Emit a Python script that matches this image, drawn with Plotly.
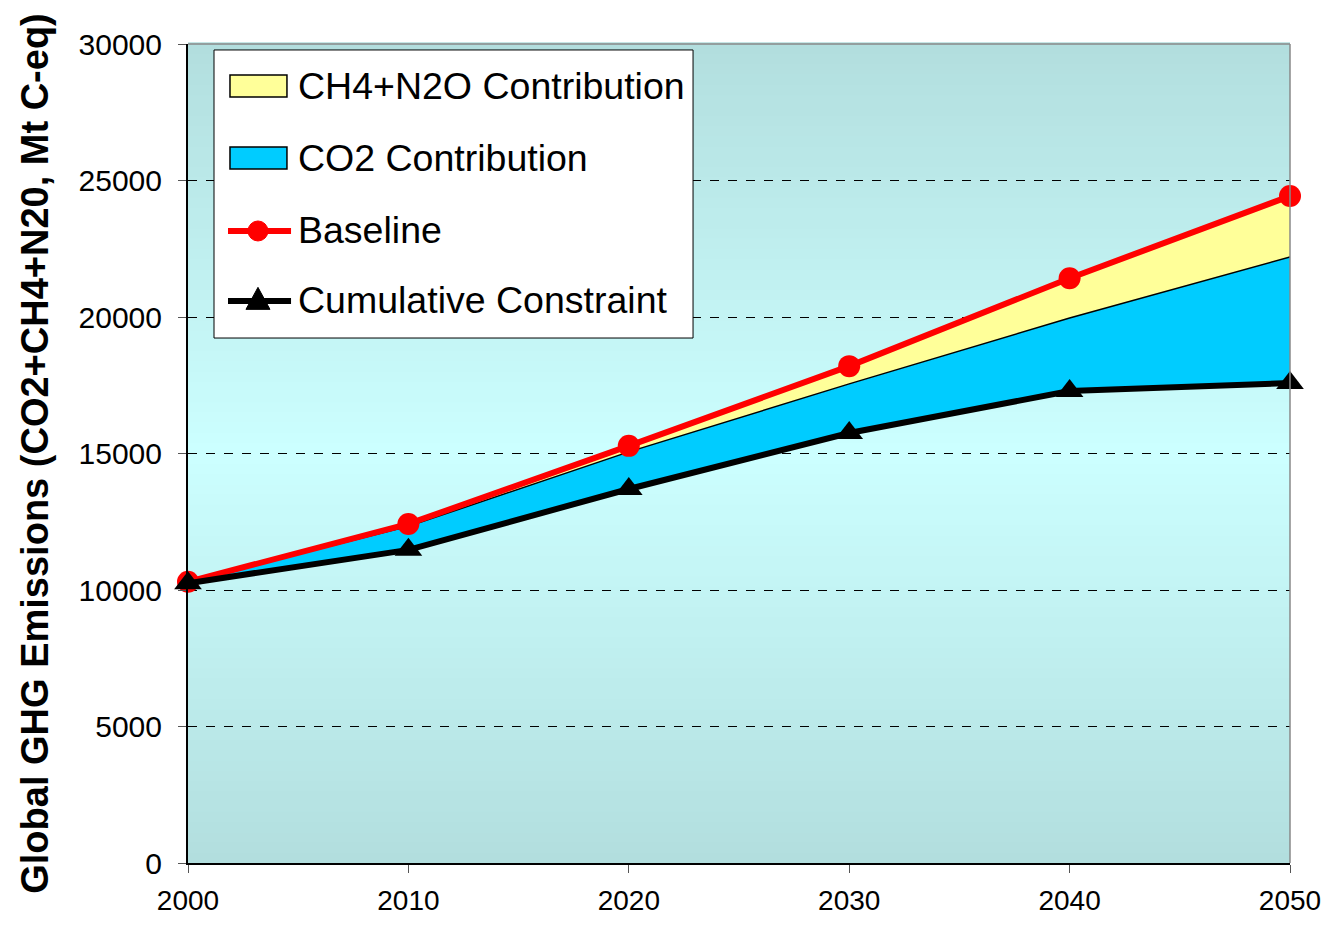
import plotly.graph_objects as go

years = [2000, 2010, 2020, 2030, 2040, 2050]
baseline = [10300, 12420, 15280, 18200, 21420, 24430]
co2_top = [10300, 12330, 15060, 17550, 19960, 22200]
constraint = [10250, 11470, 13700, 15750, 17290, 17580]

y_ticks = [0, 5000, 10000, 15000, 20000, 25000, 30000]
y_ticklabels = ["0", "5000", "10000", "15000", "20000", "25000", "30000"]
x_ticks = [2000, 2010, 2020, 2030, 2040, 2050]
x_ticklabels = ["2000", "2010", "2020", "2030", "2040", "2050"]

legend_names = ["CH4+N2O Contribution", "CO2 Contribution", "Baseline", "Cumulative Constraint"]

FONT = "Liberation Sans, Arial, sans-serif"
RED = "#FF0000"
BLUE = "#00CCFF"
YELLOW = "#FFFF99"

fig = go.Figure()

# invisible base for the CO2 band
fig.add_trace(go.Scatter(x=years, y=constraint, mode="lines",
                         line=dict(width=0, color="black"),
                         showlegend=False, hoverinfo="skip"))
fig.add_trace(go.Scatter(x=years, y=co2_top, mode="lines", fill="tonexty",
                         fillcolor=BLUE, line=dict(color="black", width=1.5),
                         name=legend_names[1], showlegend=False))
fig.add_trace(go.Scatter(x=years, y=baseline, mode="lines", fill="tonexty",
                         fillcolor=YELLOW, line=dict(color="black", width=1),
                         name=legend_names[0], showlegend=False))
fig.add_trace(go.Scatter(x=years, y=baseline, mode="lines+markers",
                         line=dict(color=RED, width=6),
                         marker=dict(symbol="circle", size=22, color=RED),
                         name=legend_names[2], showlegend=False, cliponaxis=False))
fig.add_trace(go.Scatter(x=years, y=constraint, mode="lines+markers",
                         line=dict(color="black", width=6),
                         marker=dict(symbol="triangle-up", size=24, color="black"),
                         name=legend_names[3], showlegend=False, cliponaxis=False))

# background gradient (edges teal, centre light cyan)
shapes = []
N = 80
edge = (0xB2, 0xDE, 0xDE)
mid = (0xCC, 0xFF, 0xFF)
for i in range(N):
    t0 = i / N
    t1 = (i + 1) / N
    tc = (t0 + t1) / 2
    f = 1 - abs(tc - 0.5) * 2  # 0 at edges, 1 at centre
    c = tuple(round(e + (m - e) * f) for e, m in zip(edge, mid))
    shapes.append(dict(type="rect", xref="x domain", yref="y domain",
                       x0=0, x1=1, y0=t0, y1=t1 + 0.002, layer="below",
                       line=dict(width=0), fillcolor="rgb(%d,%d,%d)" % c))
# grey top and right borders
shapes.append(dict(type="line", xref="x domain", yref="y domain", x0=0, x1=1, y0=1, y1=1,
                   line=dict(color="#888888", width=1.5)))
shapes.append(dict(type="line", xref="x domain", yref="y domain", x0=1, x1=1, y0=0, y1=1,
                   line=dict(color="#888888", width=1.5)))

# ---- hand-drawn legend (box, swatches, line samples, labels) ----
D = dict(xref="x domain", yref="y domain")
shapes.append(dict(type="rect", **D, x0=0.0236, x1=0.4583, y0=0.641, y1=0.9927,
                   fillcolor="white", line=dict(color="black", width=1), layer="above"))
row_y = [0.9487, 0.8608, 0.7717, 0.6862]
sw_x0, sw_x1 = 0.0381, 0.0898
sw_h = 0.0135
shapes.append(dict(type="rect", **D, x0=sw_x0, x1=sw_x1, y0=row_y[0] - sw_h, y1=row_y[0] + sw_h,
                   fillcolor=YELLOW, line=dict(color="black", width=1.5), layer="above"))
shapes.append(dict(type="rect", **D, x0=sw_x0, x1=sw_x1, y0=row_y[1] - sw_h, y1=row_y[1] + sw_h,
                   fillcolor=BLUE, line=dict(color="black", width=1.5), layer="above"))
shapes.append(dict(type="line", **D, x0=0.0363, x1=0.0935, y0=row_y[2], y1=row_y[2],
                   line=dict(color=RED, width=6), layer="above"))
shapes.append(dict(type="line", **D, x0=0.0363, x1=0.0935, y0=row_y[3], y1=row_y[3],
                   line=dict(color="black", width=6), layer="above"))
shapes.append(dict(type="circle", **D, xsizemode="pixel", ysizemode="pixel",
                   xanchor=0.0635, yanchor=row_y[2], x0=-10, x1=10, y0=-10, y1=10,
                   fillcolor=RED, line=dict(color=RED, width=1), layer="above"))
shapes.append(dict(type="path", **D, xsizemode="pixel", ysizemode="pixel",
                   xanchor=0.0635, yanchor=row_y[3] + 0.002,
                   path="M-12,-10 L12,-10 L0,12 Z",
                   fillcolor="black", line=dict(color="black", width=1), layer="above"))

annotations = []
for name, yy in zip(legend_names, [0.9487, 0.8608, 0.7729, 0.6874]):
    annotations.append(dict(text=name, **D, x=0.0980, y=yy, xanchor="left",
                            yanchor="middle", showarrow=False,
                            font=dict(size=37.5, family=FONT, color="black")))

fig.update_layout(
    width=1313, height=910,
    margin=dict(l=180, r=31, t=36, b=55),
    paper_bgcolor="white",
    plot_bgcolor="#CCFFFF",
    shapes=shapes,
    annotations=annotations,
    showlegend=False,
    font=dict(family=FONT, color="black"),
    xaxis=dict(range=[2000, 2050], tickvals=x_ticks, ticktext=x_ticklabels,
               showgrid=False, zeroline=False, automargin=False,
               ticklabeloverflow="allow",
               showline=True, linecolor="black", linewidth=2, ticks="outside",
               ticklen=8, tickcolor="#555555", ticklabelstandoff=3,
               tickfont=dict(size=28, family=FONT)),
    yaxis=dict(range=[0, 30000], tickvals=y_ticks, ticktext=y_ticklabels,
               showgrid=True, gridcolor="black", automargin=False,
               griddash="dash", gridwidth=1, zeroline=False,
               showline=True, linecolor="black", linewidth=2, ticks="outside",
               ticklen=8, tickcolor="#555555", ticklabelstandoff=10,
               tickfont=dict(size=30, family=FONT),
               title=dict(text="<b>Global GHG Emissions (CO2+CH4+N20, Mt C-eq)</b>",
                          font=dict(size=38, family=FONT), standoff=18)),
)

fig.write_html("out.html")
